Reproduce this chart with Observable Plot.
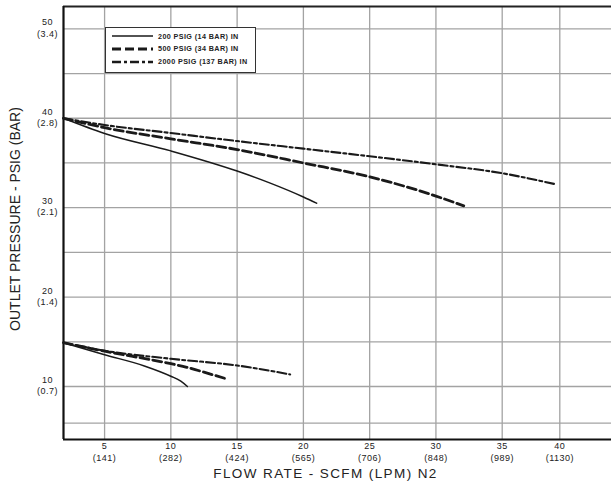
<!DOCTYPE html>
<html>
<head>
<meta charset="utf-8">
<script src="https://cdn.jsdelivr.net/npm/d3@7"></script>
<script src="https://cdn.jsdelivr.net/npm/@observablehq/plot@0.6"></script>
<style>
  html, body { margin: 0; padding: 0; background: #fff; }
  #chart { position: relative; width: 611px; height: 489px; font-family: "Liberation Sans", Arial, sans-serif; }
  #legend { position: absolute; left: 105px; top: 27px; width: 151px; height: 46px;
            border: 1.3px solid #333; background: #fff; box-sizing: border-box; }
  #legend .row { position: absolute; left: 6px; height: 12px; display: flex; align-items: center; }
  #legend .row span { font-weight: bold; font-size: 7.2px; letter-spacing: 0.4px; color: #222; margin-left: 5px; white-space: nowrap; }
</style>
</head>
<body>
<div id="chart"></div>
<script>
// ---- data ----
const seriesNames = ["200 PSIG (14 BAR) IN", "500 PSIG (34 BAR) IN", "2000 PSIG (137 BAR) IN"];

const flowTicks = [5, 10, 15, 20, 25, 30, 35, 40];
const flowLpm = ["(141)", "(282)", "(424)", "(565)", "(706)", "(848)", "(989)", "(1130)"];
const pressureTicks = [10, 20, 30, 40, 50];
const pressureBar = ["(0.7)", "(1.4)", "(2.1)", "(2.8)", "(3.4)"];
const gridFlow = [5, 10, 15, 20, 25, 30, 35, 40];
const gridPressure = [5, 10, 15, 20, 25, 30, 35, 40, 45, 50];

// upper set (40 psig setpoint)
const hi200Flow = [1.9, 5, 10, 15, 17.5, 20, 21];
const hi200Out  = [40, 38.3, 36.35, 34.1, 32.75, 31.2, 30.5];
const hi500Flow = [1.9, 5, 10, 15, 20, 25, 30, 32.1];
const hi500Out  = [40, 38.95, 37.7, 36.5, 35.0, 33.45, 31.3, 30.2];
const hi2000Flow = [1.9, 5, 10, 15, 20, 25, 30, 35, 39.7];
const hi2000Out  = [40, 39.25, 38.35, 37.45, 36.6, 35.75, 34.85, 33.85, 32.6];
// lower set (15 psig setpoint)
const lo200Flow = [1.9, 5, 8, 10, 10.75, 11.25];
const lo200Out  = [14.9, 13.55, 12.3, 11.15, 10.6, 10.0];
const lo500Flow = [1.9, 5, 10, 11.2, 12.5, 14.1];
const lo500Out  = [14.9, 13.95, 12.55, 12.15, 11.6, 10.9];
const lo2000Flow = [1.9, 5, 10, 15, 19];
const lo2000Out  = [14.9, 14.0, 13.1, 12.35, 11.35];

// scale domains (piecewise, to follow the printed grid)
const xDomain = [1.9, 35, 40, 44.5];
const yDomain = [4, 5, 10, 52.5];

function rows(flow, out, name, group) {
  return flow.map((f, i) => ({flow: f, out: out[i], series: name, key: name + group}));
}
const s200 = [...rows(hi200Flow, hi200Out, seriesNames[0], "hi"), ...rows(lo200Flow, lo200Out, seriesNames[0], "lo")];
const s500 = [...rows(hi500Flow, hi500Out, seriesNames[1], "hi"), ...rows(lo500Flow, lo500Out, seriesNames[1], "lo")];
const s2000 = [...rows(hi2000Flow, hi2000Out, seriesNames[2], "hi"), ...rows(lo2000Flow, lo2000Out, seriesNames[2], "lo")];

const ink = "#1a1a1a";
const gridColor = "#a3a3a3";
const dash500 = "9,4";
const dash2000 = "9,3,3,3";

const plot = Plot.plot({
  width: 611,
  height: 489,
  marginLeft: 63,
  marginRight: 0,
  marginTop: 6,
  marginBottom: 50,
  style: {fontFamily: "'Liberation Sans', Arial, sans-serif", background: "#fff", color: ink},
  x: {type: "linear", domain: xDomain, range: [63, 501.7, 559.3, 611], axis: null},
  y: {type: "linear", domain: yDomain, range: [439, 422.7, 386, 6], axis: null},
  marks: [
    Plot.ruleX(gridFlow, {x: d => d, stroke: gridColor, strokeWidth: 1.3}),
    Plot.ruleY(gridPressure, {y: d => d, stroke: gridColor, strokeWidth: 1.3}),
    Plot.ruleY([yDomain[yDomain.length - 1]], {y: d => d, stroke: "#222", strokeWidth: 2}),
    Plot.ruleX([xDomain[0]], {x: d => d, stroke: "#111", strokeWidth: 2.2}),
    Plot.ruleY([yDomain[0]], {y: d => d, stroke: "#111", strokeWidth: 2.2}),
    Plot.line(s200, {x: "flow", y: "out", z: "key", stroke: ink, strokeWidth: 1.5, curve: "monotone-x"}),
    Plot.line(s500, {x: "flow", y: "out", z: "key", stroke: ink, strokeWidth: 2.8, strokeDasharray: dash500, curve: "monotone-x"}),
    Plot.line(s2000, {x: "flow", y: "out", z: "key", stroke: ink, strokeWidth: 2.1, strokeDasharray: dash2000, curve: "monotone-x"}),
    Plot.text(flowTicks, {x: d => d, text: (d, i) => `${d}\n${flowLpm[i]}`, frameAnchor: "bottom",
      lineAnchor: "middle", dy: 12, fontSize: 9, lineHeight: 1.33, fill: "#222"}),
    Plot.text(pressureTicks, {y: d => d, text: (d, i) => `${d}\n${pressureBar[i]}`, frameAnchor: "left",
      textAnchor: "middle", lineAnchor: "middle", dx: -16, dy: -1.5, fontSize: 9, lineHeight: 1.26, fill: "#222"}),
    Plot.text(["FLOW RATE - SCFM (LPM) N2"], {text: d => d, frameAnchor: "bottom", dy: 38, dx: -12,
      fontSize: 13.5, fill: "#222"}),
    Plot.text(["OUTLET PRESSURE - PSIG (BAR)"], {text: d => d, frameAnchor: "left", textAnchor: "middle",
      lineAnchor: "middle", dx: -48, dy: -4, rotate: -90, fontSize: 14, fill: "#222"})
  ]
});

// widen horizontal labels slightly (the printed chart uses a wide face)
d3.select(plot).selectAll("g").filter(function() { return this.getAttribute("font-size") === "9"; })
  .attr("letter-spacing", "0.5");
d3.select(plot).selectAll("g").filter(function() { return this.getAttribute("font-size") === "13.5"; })
  .attr("letter-spacing", "1.4");

const chart = document.getElementById("chart");
chart.appendChild(plot);

// legend
const legend = document.createElement("div");
legend.id = "legend";
const styles = [
  {w: 1.5, dash: null},
  {w: 2.8, dash: dash500},
  {w: 2.4, dash: dash2000}
];
const rowTops = [2, 14.7, 27.7];
seriesNames.forEach((name, i) => {
  const row = document.createElement("div");
  row.className = "row";
  row.style.top = rowTops[i] + "px";
  const svg = d3.create("svg").attr("width", 41).attr("height", 12);
  svg.append("line").attr("x1", 0).attr("x2", 41).attr("y1", 6).attr("y2", 6)
    .attr("stroke", ink).attr("stroke-width", styles[i].w)
    .attr("stroke-dasharray", styles[i].dash);
  row.appendChild(svg.node());
  const label = document.createElement("span");
  label.textContent = name;
  row.appendChild(label);
  legend.appendChild(row);
});
chart.appendChild(legend);
</script>
</body>
</html>
